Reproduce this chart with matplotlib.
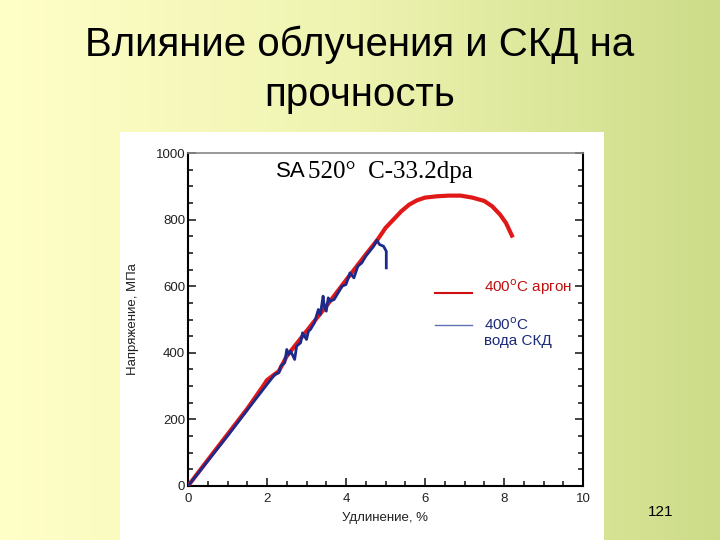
import numpy as np
import matplotlib
matplotlib.use("Agg")
import matplotlib.pyplot as plt
from matplotlib.colors import LinearSegmentedColormap
from matplotlib.ticker import MultipleLocator

plt.rcParams['font.family'] = ['Liberation Sans', 'DejaVu Sans']

# данные
argon_x = [0, 0.5, 1.0, 1.5, 1.9, 2.0, 2.3, 2.5, 3.0, 3.5, 4.0, 4.5, 4.8, 5.0,
           5.2, 5.4, 5.6, 5.8, 6.0, 6.3, 6.6, 6.9, 7.2, 7.5, 7.7, 7.9, 8.05, 8.2]
argon_y = [0, 78, 155, 232, 300, 318, 345, 390, 465, 540, 618, 695, 740, 775,
           800, 825, 845, 858, 866, 870, 872, 872, 866, 856, 840, 815, 790, 752]

skd_x = [0, 0.5, 1.0, 1.5, 2.0, 2.2, 2.3, 2.35, 2.45, 2.5, 2.55, 2.6, 2.7, 2.75,
         2.85, 2.9, 3.0, 3.05, 3.1, 3.2, 3.3, 3.35, 3.42, 3.45, 3.5, 3.55, 3.6,
         3.7, 3.8, 3.9, 4.0, 4.1, 4.2, 4.3, 4.4, 4.5, 4.6, 4.7, 4.78, 4.85, 4.95,
         5.02, 5.02]
skd_y = [0, 75, 150, 228, 305, 335, 340, 360, 370, 410, 395, 405, 380, 420,
         430, 460, 440, 465, 470, 490, 530, 515, 570, 540, 525, 565, 555,
         560, 580, 600, 605, 640, 625, 660, 670, 690, 705, 720, 738, 725, 720,
         705, 655]

title = "Влияние облучения и СКД на\nпрочность"
xlabel = "Удлинение, %"
ylabel = "Напряжение, МПа"

fig = plt.figure(figsize=(7.2, 5.4), dpi=100)

# фон слайда: градиент слева направо
bg = fig.add_axes([0, 0, 1, 1], zorder=-10)
cmap = LinearSegmentedColormap.from_list("slide", ["#ffffc8", "#eef3b0", "#ccdc88"])
bg.imshow(np.linspace(0, 1, 256).reshape(1, -1), aspect="auto", cmap=cmap,
          extent=[0, 1, 0, 1])
bg.axis("off")

fig.text(0.5, 0.87, title, ha="center", va="center", fontsize=29,
         linespacing=1.4, color="black")
fig.text(0.917, 0.052, "121", ha="center", va="center", fontsize=11)

# белая подложка под картинку графика
panel = fig.add_axes([120 / 720, 0, 484 / 720, 408 / 540], zorder=-5)
panel.set_facecolor("white")
panel.set_xticks([])
panel.set_yticks([])
for s in panel.spines.values():
    s.set_visible(False)

ax = fig.add_axes([188 / 720, 1 - 486 / 540, 395 / 720, 333 / 540])
ax.set_facecolor("white")
ax.plot(argon_x, argon_y, color="#e01818", lw=3.0, zorder=3)
ax.plot(skd_x, skd_y, color="#1c2a8c", lw=2.0, zorder=4)

ax.set_xlim(0, 10)
ax.set_ylim(0, 1000)
ax.xaxis.set_major_locator(MultipleLocator(2))
ax.xaxis.set_minor_locator(MultipleLocator(0.5))
ax.yaxis.set_major_locator(MultipleLocator(200))
ax.yaxis.set_minor_locator(MultipleLocator(50))
ax.tick_params(which="both", direction="in", right=True, top=False,
               labelsize=9.5, colors="#222222", width=1.2)
ax.tick_params(which="major", length=6, pad=5)
ax.tick_params(which="minor", length=3.5)
ax.tick_params(axis="y", pad=2)
for side in ("left", "bottom", "right"):
    ax.spines[side].set_linewidth(1.5)
ax.spines["top"].set_color("#888888")
ax.spines["top"].set_linewidth(1.2)

ax.set_xlabel(xlabel, fontsize=9.5, labelpad=5, color="#222222")
ax.set_ylabel(ylabel, fontsize=9.5, labelpad=12, color="#222222")

ax.text(0.222, 0.943, "SA", transform=ax.transAxes, fontsize=16,
        va="center", ha="left")
ax.text(0.305, 0.943, "520\u00b0  C-33.2dpa", transform=ax.transAxes,
        fontsize=18, va="center", ha="left", family="Liberation Serif")

# подписи кривых
ax.plot([6.25, 7.2], [580, 580], color="#d01010", lw=1.5)
ax.plot([6.25, 7.2], [484, 484], color="#6070b0", lw=1.0)
ax.text(7.5, 598, "400$^{\\rm o}$C аргон", color="#c01010", fontsize=11,
        va="center", ha="left")
ax.text(7.5, 462, "400$^{\\rm o}$C\nвода СКД", color="#1c2a78", fontsize=11,
        va="center", ha="left", linespacing=1.05)

fig.savefig("out.png", dpi=100)
